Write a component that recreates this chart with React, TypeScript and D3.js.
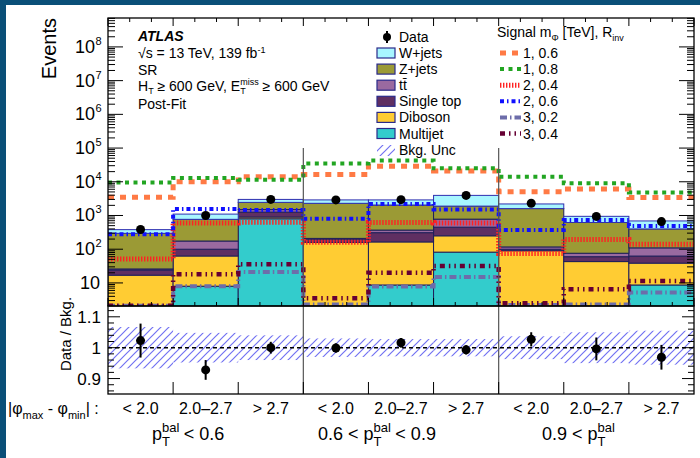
import React from "react";
import * as d3 from "d3";

// bins: |phi_max - phi_min| categories inside three pT^bal groups
const binLabels = ["< 2.0", "2.0–2.7", "> 2.7", "< 2.0", "2.0–2.7", "> 2.7", "< 2.0", "2.0–2.7", "> 2.7"];

// background processes (post-fit, events per bin)
const multijet = [1, 8, 800, 1.5, 8.7, 82, 1, 1, 8.7];
const diboson = [16, 55, 100, 158, 156, 168, 89, 42, 30];
const singleTop = [7, 37, 360, 40, 145, 200, 10, 17, 24];
const ttbar = [2, 75, 240, 10, 60, 330, 17, 16, 47];
const zjets = [270, 595, 950, 2090, 1680, 1120, 1483, 544, 290];
const wjets = [85, 330, 550, 600, 850, 2050, 600, 325, 290];

const dataEvents = [385, 1000, 3000, 2900, 2950, 3950, 2300, 940, 660];

// signals m_phi [TeV], R_inv
const sig1_06 = [3500, 10000, 14000, 16500, 29000, 21000, 5100, 6100, 3400];
const sig1_08 = [9500, 13000, 11500, 35000, 43000, 25000, 14000, 9100, 4800];
const sig2_04 = [51, 600, 630, 160, 620, 600, 75, 195, 140];
const sig2_06 = [280, 1550, 1450, 800, 2200, 1500, 370, 740, 490];
const sig3_02 = [2.1, 8, 21, 2.3, 7.8, 15, 2.2, 2.3, 5.2];
const sig3_04 = [2.1, 18, 36, 3.5, 20, 32, 2.5, 6.5, 11.5];

// ratio panel
const ratio = [1.023, 0.928, 1.0, 0.999, 1.016, 0.993, 1.027, 0.996, 0.969];
const ratioErr = [0.055, 0.032, 0.019, 0.015, 0.015, 0.015, 0.023, 0.037, 0.04];
const bkgUnc = [0.067, 0.048, 0.04, 0.03, 0.028, 0.028, 0.037, 0.05, 0.055];

const bkgKeys = ["multijet", "diboson", "singleTop", "ttbar", "zjets", "wjets"];
const bkgColors: Record<string, string> = {
  multijet: "#33cccc",
  diboson: "#ffcc33",
  singleTop: "#5f2f62",
  ttbar: "#9a6aa0",
  zjets: "#9b9a35",
  wjets: "#a8f6ff",
};

const signals = [
  { label: "1, 0.6", values: sig1_06, color: "#ff7a45", width: 5, dash: "6,6" },
  { label: "1, 0.8", values: sig1_08, color: "#22a522", width: 4, dash: "4,4.5" },
  { label: "2, 0.4", values: sig2_04, color: "#ff2222", width: 5, dash: "1.4,1.6" },
  { label: "2, 0.6", values: sig2_06, color: "#1010ff", width: 4, dash: "4,3,1.5,3" },
  { label: "3, 0.2", values: sig3_02, color: "#6d6daa", width: 4, dash: "7,3,1.5,3" },
  { label: "3, 0.4", values: sig3_04, color: "#660033", width: 4.5, dash: "5,4,1.5,4,1.5,4" },
];

const W = 700;
const H = 458;
const left = 108;
const right = 694;
const top = 18;
const mid = 306;
const bottom = 394;
const font = "'Liberation Sans', Arial, Helvetica, sans-serif";

export default function App() {
  const x = d3.scaleLinear().domain([0, 9]).range([left, right]);
  const y = d3.scaleLog().domain([2.07, 7.2e8]).range([mid, top]);
  const yr = d3.scaleLinear().domain([0.85, 1.135]).range([bottom, mid]);

  const rows = binLabels.map((_, i) => ({
    multijet: multijet[i],
    diboson: diboson[i],
    singleTop: singleTop[i],
    ttbar: ttbar[i],
    zjets: zjets[i],
    wjets: wjets[i],
  }));
  const stacked = d3.stack<any>().keys(bkgKeys)(rows);

  const stepLine = (vals: number[]) =>
    d3.line()(vals.flatMap((v, i) => [[x(i), y(v)], [x(i + 1), y(v)]] as [number, number][]));

  // log axis ticks
  const logMajor: number[] = [];
  const logMinor: number[] = [];
  for (let n = 0; n <= 8; n++) {
    for (let k = 1; k <= 9; k++) {
      const v = k * Math.pow(10, n);
      if (v < 2.07 || v > 7.2e8) continue;
      (k === 1 ? logMajor : logMinor).push(v);
    }
  }
  const xTicks = d3.range(0, 28).map((k) => k / 3);
  const ratioTicks = d3.range(43, 57).map((k) => k * 0.02);

  return (
    <svg width={W} height={H} style={{ position: "absolute", left: 0, top: 0 }} fontFamily={font}>
      <defs>
        <clipPath id="upper">
          <rect x={left} y={top} width={right - left} height={mid - top} />
        </clipPath>
        <clipPath id="lower">
          <rect x={left} y={mid} width={right - left} height={bottom - mid} />
        </clipPath>
        <pattern id="hatch" patternUnits="userSpaceOnUse" width="8" height="8">
          <path d="M-2,2 l4,-4 M0,8 l8,-8 M6,10 l4,-4" stroke="#7272f2" strokeWidth="1.2" />
        </pattern>
      </defs>
      <rect width={W} height={H} fill="#0a4f78" />
      <rect x={6} y={5} width={W - 6} height={H - 5} fill="#fff" />

      {/* stacked backgrounds */}
      <g clipPath="url(#upper)">
        {stacked.map((s) =>
          s.map((d, i) => {
            const y0 = y(Math.max(d[0], 1));
            const y1 = y(d[1]);
            return (
              <rect
                key={s.key + i}
                x={x(i)}
                y={y1}
                width={x(i + 1) - x(i)}
                height={Math.max(0, y0 - y1)}
                fill={bkgColors[s.key]}
                stroke={s.key === "wjets" ? "#2f2fb0" : "#1f1f5a"}
                strokeWidth={1}
              />
            );
          })
        )}
        {signals.map((s) => (
          <path
            key={s.label}
            d={stepLine(s.values) || ""}
            fill="none"
            stroke={s.color}
            strokeWidth={s.width}
            strokeDasharray={s.dash}
          />
        ))}
        {dataEvents.map((v, i) => (
          <circle key={i} cx={x(i + 0.5)} cy={y(v)} r={4.5} fill="#000" />
        ))}
      </g>

      {/* ratio panel */}
      <g clipPath="url(#lower)">
        {bkgUnc.map((u, i) => (
          <rect
            key={i}
            x={x(i)}
            y={yr(1 + u)}
            width={x(i + 1) - x(i)}
            height={yr(1 - u) - yr(1 + u)}
            fill="url(#hatch)"
          />
        ))}
        <line x1={left} x2={right} y1={yr(1)} y2={yr(1)} stroke="#000" strokeWidth={1.5} strokeDasharray="4,3" />
        {ratio.map((r, i) => (
          <g key={i}>
            <line
              x1={x(i + 0.5)}
              x2={x(i + 0.5)}
              y1={yr(r - ratioErr[i])}
              y2={yr(r + ratioErr[i])}
              stroke="#000"
              strokeWidth={2}
            />
            <circle cx={x(i + 0.5)} cy={yr(r)} r={4.5} fill="#000" />
          </g>
        ))}
      </g>

      {/* group separators */}
      {[3, 6].map((b) => (
        <line key={b} x1={x(b)} x2={x(b)} y1={y(1e5)} y2={bottom} stroke="#555" strokeWidth={1.2} />
      ))}

      {/* ticks */}
      <g stroke="#000" strokeWidth={1}>
        {logMajor.map((v) => (
          <g key={"M" + v}>
            <line x1={left} x2={left + 15} y1={y(v)} y2={y(v)} />
            <line x1={right} x2={right - 15} y1={y(v)} y2={y(v)} />
          </g>
        ))}
        {logMinor.map((v) => (
          <g key={"m" + v}>
            <line x1={left} x2={left + 7} y1={y(v)} y2={y(v)} />
            <line x1={right} x2={right - 7} y1={y(v)} y2={y(v)} />
          </g>
        ))}
        {xTicks.map((t, k) => {
          const len = k % 3 === 0 ? 8 : 4;
          return (
            <g key={"x" + k}>
              <line x1={x(t)} x2={x(t)} y1={top} y2={top + len} />
              <line x1={x(t)} x2={x(t)} y1={mid} y2={mid - len} />
            </g>
          );
        })}
        {d3.range(1, 9).map((b) => (
          <line key={"b" + b} x1={x(b)} x2={x(b)} y1={bottom} y2={bottom - 12} />
        ))}
        {ratioTicks.map((v, k) => {
          const major = (k + 43) % 5 === 0;
          const len = major ? 12 : 6;
          return (
            <g key={"r" + k}>
              <line x1={left} x2={left + len} y1={yr(v)} y2={yr(v)} />
              <line x1={right} x2={right - len} y1={yr(v)} y2={yr(v)} />
            </g>
          );
        })}
      </g>

      {/* frames */}
      <rect x={left} y={top} width={right - left} height={mid - top} fill="none" stroke="#000" strokeWidth={1.3} />
      <rect x={left} y={mid} width={right - left} height={bottom - mid} fill="none" stroke="#000" strokeWidth={1.3} />

      {/* y tick labels */}
      {logMajor.map((v) => {
        const n = Math.round(Math.log10(v));
        return n === 1 ? (
          <text key={"l" + n} x={100} y={y(v) + 6} textAnchor="end" fontSize={18}>10</text>
        ) : (
          <g key={"l" + n}>
            <text x={95} y={y(v) + 6} textAnchor="end" fontSize={18}>10</text>
            <text x={95.5} y={y(v) - 2} fontSize={11}>{n}</text>
          </g>
        );
      })}
      {[0.9, 1, 1.1].map((v) => (
        <text key={v} x={101} y={yr(v) + 6} textAnchor="end" fontSize={17}>{v === 1 ? "1" : String(v)}</text>
      ))}

      <text transform="translate(56,18) rotate(-90)" textAnchor="end" fontSize={20}>Events</text>
      <text transform={`translate(71,${(mid + bottom) / 2 - 16}) rotate(-90)`} textAnchor="middle" fontSize={15}>Data / Bkg.</text>

      {/* info text */}
      <g fontSize={14}>
        <text x={138} y={41} fontWeight="bold" fontStyle="italic">ATLAS</text>
        <text x={138} y={58}>
          √s = 13 TeV, 139 fb<tspan dy={-5} fontSize={9}>-1</tspan>
        </text>
        <text x={138} y={75}>SR</text>
        <text x={138} y={91}>
          H<tspan dy={3} fontSize={9}>T</tspan>
          <tspan dy={-3}> ≥ 600 GeV, E</tspan>
          <tspan dy={-6} fontSize={9}>miss</tspan>
          <tspan dx={-18.5} dy={9} fontSize={9}>T</tspan>
          <tspan dx={13} dy={-3}> ≥ 600 GeV</tspan>
        </text>
        <text x={138} y={109}>Post-Fit</text>
      </g>

      {/* background legend */}
      <g fontSize={14}>
        <line x1={387} x2={387} y1={31} y2={43} stroke="#000" strokeWidth={2} />
        <circle cx={387} cy={37} r={4} fill="#000" />
        <text x={399} y={42}>Data</text>
        {[
          ["wjets", "W+jets"],
          ["zjets", "Z+jets"],
          ["ttbar", "tt\u0304"],
          ["singleTop", "Single top"],
          ["diboson", "Diboson"],
          ["multijet", "Multijet"],
        ].map(([k, label], j) => (
          <g key={k}>
            <rect x={377} y={48 + j * 16.1} width={18} height={10} fill={bkgColors[k]} stroke="#2a2a8a" strokeWidth={1.2} />
            <text x={399} y={58 + j * 16.1}>{label}</text>
          </g>
        ))}
        <rect x={377} y={145} width={18} height={11} fill="url(#hatch)" />
        <text x={399} y={154.5}>Bkg. Unc</text>

        <text x={497} y={37}>
          Signal m<tspan dy={4} fontSize={9}>Φ</tspan>
          <tspan dy={-4}> [TeV], R</tspan>
          <tspan dy={4} fontSize={9}>inv</tspan>
        </text>
        {signals.map((s, j) => (
          <g key={s.label}>
            <line
              x1={500}
              x2={521}
              y1={53 + j * 16.1}
              y2={53 + j * 16.1}
              stroke={s.color}
              strokeWidth={s.width}
              strokeDasharray={s.dash}
            />
            <text x={523} y={58 + j * 16.1}>{s.label}</text>
          </g>
        ))}
      </g>

      {/* x labels */}
      <text x={8} y={414} fontSize={16}>
        |φ<tspan dy={5} fontSize={11}>max</tspan>
        <tspan dy={-5}> - φ</tspan>
        <tspan dy={5} fontSize={11}>min</tspan>
        <tspan dy={-5}>| :</tspan>
      </text>
      {binLabels.map((l, i) => (
        <text key={i} x={x(i + 0.5)} y={414} textAnchor="middle" fontSize={16}>{l}</text>
      ))}
      <g fontSize={18}>
        <text x={152} y={440}>
          p<tspan dy={-8} fontSize={13}>bal</tspan>
          <tspan dx={-17.5} dy={14} fontSize={13}>T</tspan>
          <tspan dx={9} dy={-6}> &lt; 0.6</tspan>
        </text>
        <text x={318} y={440}>
          0.6 &lt; p<tspan dy={-8} fontSize={13}>bal</tspan>
          <tspan dx={-17.5} dy={14} fontSize={13}>T</tspan>
          <tspan dx={9} dy={-6}> &lt; 0.9</tspan>
        </text>
        <text x={542} y={440}>
          0.9 &lt; p<tspan dy={-8} fontSize={13}>bal</tspan>
          <tspan dx={-17.5} dy={14} fontSize={13}>T</tspan>
        </text>
      </g>
    </svg>
  );
}
